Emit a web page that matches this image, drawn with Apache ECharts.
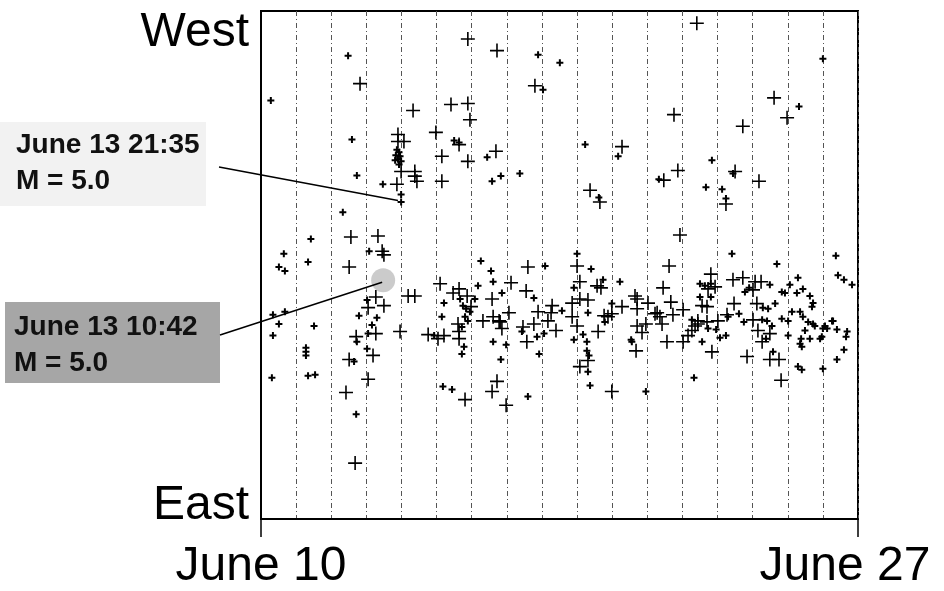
<!DOCTYPE html>
<html><head><meta charset="utf-8">
<script src="https://cdn.jsdelivr.net/npm/echarts@6/dist/echarts.min.js"></script>
<style>html,body{margin:0;padding:0;background:#fff}#c{width:944px;height:591px}</style>
</head><body><div id="c"></div>
<script>
// x: days after June 10 (0..17), y: relative East(0) .. West(100) position
const dayLabels = ['June 10', 'June 27'];
const dayRange = [0, 17];
const sideLabels = ['East', 'West'];
const posRange = [0, 100];

// larger events (big crosses)
const largeQuakes = [[5.89,94.5],[6.72,92.2],[2.82,85.7],[7.80,85.3],[4.33,80.4],[5.41,81.6],[5.89,81.8],[5.95,78.6],[4.98,76.1],[3.90,75.7],[3.90,74.3],[4.07,74.3],[5.64,73.7],[5.15,71.4],[5.89,70.4],[6.69,72.4],[3.99,68.4],[4.38,68.4],[4.38,67.5],[4.44,66.5],[5.15,66.5],[3.87,65.9],[10.28,73.3],[9.37,64.7],[9.65,62.4],[12.41,97.6],[14.61,82.9],[14.98,79.0],[11.76,79.6],[13.72,77.3],[11.87,68.6],[11.47,66.7],[13.50,68.4],[14.18,66.5],[13.24,62.0],[11.93,55.9],[2.56,55.5],[3.33,55.7],[3.45,52.7],[3.50,52.0],[2.51,49.6],[3.27,43.7],[3.50,42.0],[3.05,41.6],[4.19,43.9],[4.38,43.9],[5.10,46.3],[5.47,44.5],[5.64,45.3],[5.61,38.4],[3.96,36.9],[2.71,35.9],[3.27,36.5],[4.76,36.3],[5.04,35.5],[5.21,36.1],[5.64,36.9],[5.64,35.5],[2.51,31.4],[3.19,32.2],[3.05,27.5],[2.42,24.9],[2.68,11.0],[5.81,23.5],[7.60,49.6],[7.12,46.5],[7.55,44.9],[6.58,43.3],[5.87,43.9],[5.98,41.8],[6.32,39.0],[6.61,39.8],[6.81,38.8],[6.86,37.5],[6.78,39.0],[7.46,37.8],[7.77,38.4],[7.57,34.9],[8.17,39.0],[8.40,37.1],[6.72,27.1],[6.58,25.1],[6.98,22.4],[7.06,40.6],[7.89,40.8],[8.26,40.6],[8.29,42.0],[9.00,49.8],[9.08,46.7],[8.86,42.5],[9.08,43.3],[9.31,43.1],[8.86,39.8],[9.00,38.0],[9.57,45.9],[9.68,45.5],[9.60,36.9],[9.77,40.0],[9.88,39.8],[9.99,40.4],[9.31,31.2],[9.08,30.0],[9.99,25.1],[10.28,41.8],[10.65,43.9],[10.71,43.3],[10.71,41.4],[11.02,42.5],[10.71,38.0],[10.96,38.4],[10.85,36.7],[10.68,33.1],[11.22,40.4],[11.36,39.8],[11.42,38.4],[11.56,34.9],[11.62,49.8],[11.45,45.5],[11.67,42.7],[12.02,41.2],[11.73,40.2],[11.28,40.6],[12.02,34.9],[12.16,36.1],[12.27,37.1],[12.44,38.4],[12.70,38.8],[12.84,32.9],[13.01,39.0],[12.81,48.2],[12.93,45.7],[12.73,45.3],[12.70,41.8],[12.56,42.0],[13.27,40.2],[13.47,42.4],[13.44,47.1],[13.72,47.5],[14.07,46.7],[14.24,46.7],[14.01,45.1],[14.12,42.4],[14.01,39.2],[14.15,37.1],[14.27,34.9],[14.49,36.5],[13.84,32.0],[14.49,31.4],[14.75,31.4],[14.81,27.3],[12.44,39.0],[12.36,38.0]];

// smaller events (small crosses)
const smallQuakes = [[2.48,91.2],[0.28,82.4],[2.59,74.7],[5.50,74.5],[5.64,74.1],[2.73,67.6],[3.47,65.9],[3.87,72.7],[3.93,72.2],[3.84,71.6],[3.96,71.4],[3.90,70.8],[3.99,70.4],[3.82,70.6],[3.93,69.8],[7.89,91.4],[8.51,89.8],[8.03,84.5],[6.44,71.2],[6.83,67.5],[6.58,66.5],[7.37,68.0],[9.23,73.7],[10.17,71.4],[9.62,63.3],[16.00,90.6],[15.32,81.2],[12.84,70.6],[13.44,68.0],[12.67,65.3],[13.13,64.9],[13.24,63.1],[11.33,66.9],[2.33,60.4],[1.42,55.1],[3.08,52.7],[0.65,52.2],[1.34,50.6],[0.51,49.6],[0.68,48.8],[0.34,40.2],[0.68,40.8],[0.51,38.4],[1.51,38.0],[3.02,43.1],[2.79,40.0],[3.30,39.6],[3.16,38.2],[0.34,36.1],[3.05,36.5],[2.73,34.9],[1.28,33.7],[1.28,32.9],[1.28,32.2],[2.65,31.0],[3.02,33.5],[0.31,27.8],[1.34,28.2],[1.54,28.4],[2.71,20.6],[5.21,42.5],[5.15,39.8],[5.18,26.1],[5.44,25.5],[5.78,33.9],[5.72,32.5],[5.75,42.0],[5.84,41.4],[5.95,40.8],[5.81,39.8],[5.89,39.0],[5.72,37.8],[5.67,43.3],[4.93,36.1],[6.26,50.8],[6.55,48.8],[6.61,46.7],[6.18,45.9],[6.86,44.5],[6.09,43.3],[8.09,49.8],[7.77,43.5],[6.61,34.9],[6.98,34.3],[6.83,31.4],[7.43,36.9],[7.86,35.9],[8.06,36.5],[7.92,32.5],[7.60,24.1],[9.00,52.2],[9.40,49.2],[9.74,47.1],[8.91,45.5],[10.22,46.7],[8.57,41.0],[9.99,42.4],[9.31,40.6],[9.79,38.8],[9.17,36.3],[8.91,35.3],[9.28,34.9],[9.28,33.1],[9.34,32.2],[9.31,29.0],[9.37,26.3],[10.96,25.1],[10.54,35.3],[10.56,34.9],[12.56,34.9],[12.73,37.5],[13.24,36.1],[12.33,27.8],[13.41,52.2],[12.50,46.3],[12.64,45.9],[12.81,46.3],[12.50,43.7],[12.81,43.7],[14.69,50.2],[14.49,46.1],[15.06,46.1],[15.29,47.5],[14.83,44.7],[14.92,44.5],[15.26,44.5],[15.43,45.3],[15.63,43.9],[15.72,42.5],[15.69,41.8],[14.29,41.6],[14.44,41.4],[14.27,39.2],[14.41,39.0],[14.55,38.0],[14.83,39.4],[15.01,39.0],[15.12,40.8],[15.35,40.8],[15.43,39.8],[15.58,38.8],[15.77,38.0],[16.06,38.0],[16.26,39.0],[15.01,36.1],[15.35,34.5],[15.40,33.9],[15.38,35.5],[14.58,32.9],[15.29,30.0],[15.40,29.4],[16.00,29.6],[16.37,51.8],[16.43,48.0],[16.60,47.1],[16.83,46.1],[16.29,39.0],[16.40,37.3],[16.69,36.9],[16.66,35.9],[16.60,33.3],[16.40,31.4],[15.97,35.9],[15.92,35.5],[16.00,37.5],[16.12,37.5],[15.49,37.1],[15.63,35.5],[15.72,38.4],[14.64,42.4],[13.78,44.7],[13.90,45.5],[13.30,39.8],[13.61,40.4],[13.75,38.8],[12.27,39.2],[12.96,37.3],[13.07,35.7],[14.38,35.5],[3.99,63.9],[3.99,62.4]];

// annotated main events
const eventDays = [3.90, 3.45];
const eventPos = [62.7, 46.6];
const eventTimes = ['June 13 21:35', 'June 13 10:42'];
const eventMags = ['M = 5.0', 'M = 5.0'];

const FONT = '"Liberation Sans", Arial, Helvetica, sans-serif';
const bigCross = 'path://M-0.8,-7L0.8,-7L0.8,7L-0.8,7Z M-7,-0.8L7,-0.8L7,0.8L-7,0.8Z';
const smallCross = 'path://M-1,-3.5L1,-3.5L1,3.5L-1,3.5Z M-3.5,-1L3.5,-1L3.5,1L-3.5,1Z';

const chart = echarts.init(document.getElementById('c'), null, {renderer: 'canvas'});
const option = {
  animation: false,
  backgroundColor: '#fff',
  grid: {left: 261, top: 11, right: 86, bottom: 70, show: true, borderColor: '#000', borderWidth: 2, backgroundColor: 'transparent'},
  xAxis: [{
    type: 'value', min: dayRange[0], max: dayRange[1], interval: 1,
    axisLine: {show: true, lineStyle: {color: '#000', width: 2}},
    axisTick: {show: true, customValues: dayRange, length: 18, lineStyle: {color: '#000', width: 1.5}},
    splitLine: {show: false},
    axisLabel: {
      show: true, customValues: dayRange, margin: 24, color: '#000', fontSize: 48, fontFamily: FONT,
      formatter: v => v === dayRange[0] ? dayLabels[0] : '{r|' + dayLabels[1] + '}',
      rich: {r: {fontSize: 48, fontFamily: FONT, color: '#000', padding: [0, 26, 0, 0]}}
    }
  }, {
    // daily dash-dot guide lines
    type: 'value', min: dayRange[0], max: dayRange[1], interval: 1, position: 'bottom',
    axisLine: {show: false}, axisTick: {show: false}, axisLabel: {show: false},
    splitLine: {show: true, lineStyle: {color: '#555', width: 1, type: [5, 3, 1, 3]}}
  }],
  yAxis: {
    type: 'value', min: posRange[0], max: posRange[1],
    axisLine: {show: true, lineStyle: {color: '#000', width: 2}},
    axisTick: {show: false}, splitLine: {show: false}, axisLabel: {show: false}
  },
  series: [
    {type: 'scatter', name: 'large', data: largeQuakes, symbol: bigCross, symbolSize: 14, silent: true,
     itemStyle: {color: '#000', opacity: 1}},
    {type: 'scatter', name: 'small', data: smallQuakes, symbol: smallCross, symbolSize: 7, silent: true,
     itemStyle: {color: '#000', opacity: 1}}
  ]
};
chart.setOption(option);

const pTop = chart.convertToPixel({gridIndex: 0}, [dayRange[0], posRange[1]]);
const pBot = chart.convertToPixel({gridIndex: 0}, [dayRange[0], posRange[0]]);
const e1 = chart.convertToPixel({gridIndex: 0}, [eventDays[0], eventPos[0]]);
const e2 = chart.convertToPixel({gridIndex: 0}, [eventDays[1], eventPos[1]]);

chart.setOption({
  graphic: [
    {type: 'text', x: pTop[0] - 12, y: pTop[1] - 2, silent: true,
     style: {text: sideLabels[1], font: '48px ' + FONT, fill: '#000', align: 'right', verticalAlign: 'top'}},
    {type: 'text', x: pBot[0] - 12, y: pBot[1] + 11, silent: true,
     style: {text: sideLabels[0], font: '48px ' + FONT, fill: '#000', align: 'right', verticalAlign: 'bottom'}},
    // box 1
    {type: 'rect', shape: {x: 0, y: 122, width: 206, height: 84}, silent: true, style: {fill: '#f2f2f2'}},
    {type: 'text', x: 16, y: 127, silent: true,
     style: {text: eventTimes[0] + '\n' + eventMags[0], font: 'bold 28px ' + FONT, fill: '#111', lineHeight: 36, verticalAlign: 'top'}},
    {type: 'line', shape: {x1: 219, y1: 167, x2: e1[0], y2: e1[1]}, silent: true, style: {stroke: '#000', lineWidth: 1.5}},
    // box 2
    {type: 'rect', shape: {x: 5, y: 302, width: 215, height: 81}, silent: true, style: {fill: '#a6a6a6'}},
    {type: 'text', x: 14, y: 309, silent: true,
     style: {text: eventTimes[1] + '\n' + eventMags[1], font: 'bold 28px ' + FONT, fill: '#111', lineHeight: 36, verticalAlign: 'top'}},
    {type: 'circle', shape: {cx: e2[0] + 1, cy: e2[1] - 2, r: 12}, silent: true, style: {fill: 'rgba(140,140,140,0.45)'}},
    {type: 'line', shape: {x1: 220, y1: 335, x2: e2[0], y2: e2[1]}, silent: true, style: {stroke: '#000', lineWidth: 1.5}}
  ]
});
</script>
</body></html>
